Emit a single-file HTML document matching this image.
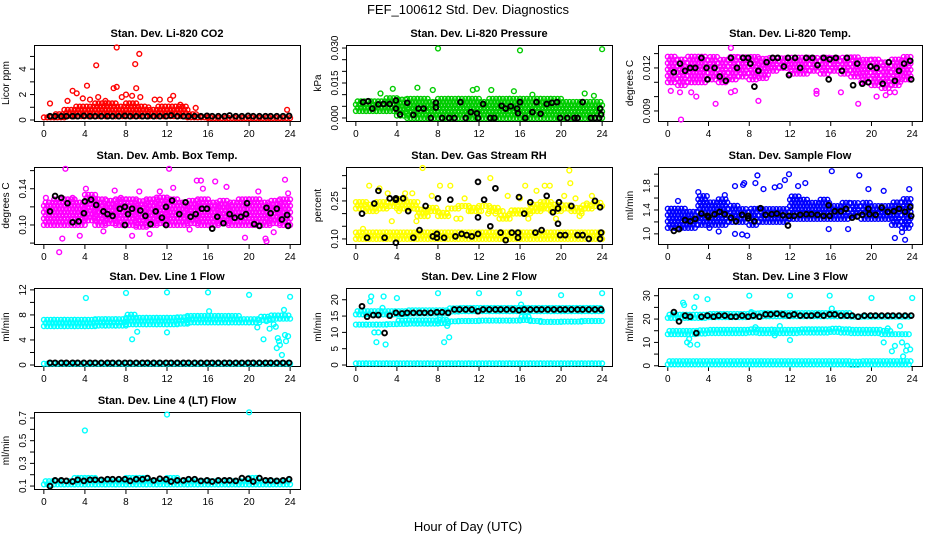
<!DOCTYPE html>
<html><head><meta charset="utf-8"><style>
html,body{margin:0;padding:0;background:#fff;}
svg{display:block;font-family:"Liberation Sans",sans-serif;}
</style></head><body>
<svg id="chart" width="936" height="540" viewBox="0 0 936 540" xmlns="http://www.w3.org/2000/svg">
<text x="468" y="14" text-anchor="middle" font-size="13">FEF_100612  Std. Dev. Diagnostics</text>
<text x="468" y="531" text-anchor="middle" font-size="13">Hour of Day (UTC)</text>
</svg>
<script>
// ---- shared categories ----
const bandHours = [0,1,2,3,4,5,6,7,8,9,10,11,12,13,14,15,16,17,18,19,20,21,22,23];
const blackHours = [0.6,1.1,1.7,2.2,2.8,3.3,3.9,4.5,5.0,5.6,6.2,6.7,7.3,7.9,8.4,9.0,9.6,10.1,10.7,11.3,11.9,12.4,13.0,13.6,14.1,14.7,15.3,15.9,16.4,17.0,17.6,18.1,18.7,19.3,19.9,20.4,21.0,21.6,22.1,22.7,23.3,23.9];
const xTickLabels = [0,4,8,12,16,20,24];

// ---- CO2 ----
const co2Lo = [.2,.2,.3,.3,.3,.3,.3,.3,.3,.3,.3,.3,.3,.3,.2,.2,.15,.15,.15,.15,.15,.15,.15,.15];
const co2Hi = [.45,.6,1.0,1.3,1.2,1.4,1.4,1.3,1.5,1.3,1.0,1.1,1.2,1.1,.5,.45,.4,.4,.4,.4,.4,.4,.4,.4];
const co2ScatX = [0.6,2.8,3.2,3.8,4.2,5.1,5.3,6.8,7.1,7.1,8.9,9.0,9.3,8.6,8.0,10.8,11.3,12.6,12.3,14.8,23.7,2.3,4.5,6.0,7.6,9.4,10.2,13.3];
const co2ScatY = [1.3,2.3,2.1,1.7,2.7,4.3,1.8,2.5,2.6,5.7,4.4,2.5,5.2,1.9,2.0,1.6,1.6,1.9,1.6,0.95,0.8,1.5,1.6,1.5,1.8,1.8,1.0,1.2];
const co2Black = [.3,.3,.3,.3,.3,.3,.32,.3,.3,.3,.3,.3,.3,.32,.3,.3,.3,.3,.3,.3,.3,.35,.3,.3,.3,.3,.3,.33,.3,.3,.3,.35,.3,.3,.32,.3,.3,.3,.3,.3,.3,.32];

// ---- Pressure ----
const prLo = [.003,.003,.003,.003,.001,0,0,0,0,0,0,0,0,0,0,0,0,0,0,0,0,0,0,0];
const prHi = [.0075,.0075,.0075,.009,.008,.009,.009,.008,.0085,.009,.0085,.0095,.008,.0085,.009,.0085,.0085,.009,.009,.009,.0075,.008,.008,.0075];
const prScatX = [3.6,6.0,7.5,11.4,11.8,13.2,15.4,8.0,16.0,24.0,17.2,22.3,23.2,2.4];
const prScatY = [.0125,.013,.012,.012,.0125,.012,.0115,.0298,.029,.0295,.010,.0105,.0095,.0105];
const prBlackX = [0.7,1.2,1.6,2.2,2.7,3.3,3.9,3.9,4.3,5.0,5.6,6.1,6.6,7.3,7.8,7.8,8.4,9.1,9.6,10.2,10.7,11.2,11.8,11.9,12.4,13.1,13.5,14.2,14.6,15.1,15.7,15.8,16.0,16.5,17.2,17.6,18.0,18.6,19.1,19.6,19.9,20.6,21.3,21.6,22.1,22.9,23.3,23.8,23.9,23.7];
const prBlackY = [.0068,.0072,.004,.0058,.006,.006,.0075,.004,.0015,.0065,.0013,.004,.004,0,.0065,.0045,0,0,0,.0068,0,.0025,.002,0,.006,0,0,.0052,.004,.005,.004,.002,.0068,0,.0025,.0068,.0018,.006,.0065,.0068,0,0,0,0,.0068,0,0,.004,.0015,0];

// ---- Li-820 Temp ----
const tLo = [.0110,.0108,.0110,.0110,.0112,.0110,.0112,.0114,.0112,.0113,.0118,.0120,.0116,.0116,.0118,.0116,.0118,.0116,.0114,.0110,.0108,.0106,.0108,.0112];
const tHi = [.0128,.0128,.0128,.0128,.0128,.0127,.0128,.0128,.0128,.0127,.0128,.0128,.0128,.0128,.0128,.0128,.0128,.0128,.0128,.0127,.0126,.0126,.0128,.0128];
const tScatX = [0.3,1.2,1.3,2.3,2.8,4.7,6.2,6.6,8.9,14.6,14.6,17.0,18.7,20.5,21.4,21.8,22.3,6.2];
const tScatY = [.0104,.0103,.0084,.0103,.0100,.0095,.0103,.0104,.0097,.0102,.0104,.0103,.0095,.0100,.0101,.0103,.0103,.0134];
const tBlackX = [0.6,1.2,1.7,2.2,2.7,3.3,3.8,3.9,4.6,5.1,5.7,6.2,6.8,7.4,7.9,8.1,8.5,8.9,9.7,10.3,10.8,11.4,11.8,11.9,12.5,13.0,13.6,14.2,14.7,15.3,15.8,15.9,16.5,17.1,17.6,18.2,18.6,19.1,19.7,19.9,20.5,21.1,21.7,22.3,22.7,23.2,23.8,23.9];
const tBlackY = [.0117,.0123,.0118,.0120,.0120,.0127,.0120,.0112,.0120,.0114,.0111,.0127,.0120,.0127,.0127,.0123,.0107,.0118,.0124,.0127,.0127,.0121,.0127,.0115,.0127,.0120,.0127,.0127,.0122,.0127,.0112,.0126,.0127,.0118,.0127,.0108,.0123,.0109,.0110,.0121,.0120,.0109,.0124,.0111,.0118,.0123,.0125,.0112];

// ---- Amb Box Temp ----
const abLo = [.100,.100,.100,.100,.105,.100,.102,.100,.100,.098,.100,.102,.100,.100,.102,.100,.100,.102,.100,.100,.100,.100,.102,.100];
const abHi = [.125,.130,.130,.128,.135,.130,.128,.130,.130,.128,.130,.132,.130,.128,.130,.130,.128,.130,.128,.130,.130,.128,.128,.130];
const abScatX = [0.2,1.5,1.8,2.1,2.8,3.5,4.1,6.9,7.5,8.6,9.3,10.3,11.3,12.2,12.6,14.9,15.3,15.5,16.7,17.8,19.6,20.9,21.6,21.7,22.4,23.5,23.8,14.2,5.8];
const abScatY = [.13,.07,.085,.162,.13,.088,.14,.138,.13,.088,.137,.09,.137,.162,.141,.149,.149,.14,.148,.142,.086,.137,.085,.082,.092,.15,.135,.095,.093];
const abBlackX = [0.6,1.1,1.7,2.3,2.8,3.4,3.9,4.0,4.6,5.1,5.8,6.2,6.7,7.4,7.9,7.9,8.2,8.6,9.4,9.9,10.4,10.9,11.5,11.9,11.9,12.5,13.2,13.8,14.3,14.8,15.4,15.9,16.4,16.9,17.5,18.1,18.6,19.2,19.7,19.8,20.5,21.0,21.7,22.1,22.7,23.2,23.7,23.8];
const abBlackY = [.115,.132,.130,.124,.103,.104,.113,.126,.128,.122,.115,.112,.110,.118,.120,.100,.112,.118,.116,.110,.101,.115,.108,.120,.100,.127,.112,.125,.109,.112,.118,.118,.096,.109,.102,.112,.108,.109,.112,.124,.101,.099,.119,.113,.118,.106,.111,.099];

// ---- Gas Stream RH ----
const rhLowLo = [.10,.10,.10,.10,.10,.10,.10,.10,.10,.10,.10,.10,.10,.10,.10,.10,.10,.10,.10,.10,.10,.10,.10,.10];
const rhLowHi = [.13,.13,.13,.13,.13,.13,.13,.13,.13,.13,.13,.13,.13,.13,.13,.13,.13,.13,.13,.13,.13,.13,.13,.13];
const rhUpLo = [.22,.21,.22,.23,.22,.22,.19,.21,.19,.22,.23,.21,.23,.21,.18,.20,.20,.21,.22,.21,.22,.21,.22,.23];
const rhUpHi = [.25,.24,.25,.25,.26,.25,.22,.23,.21,.23,.24,.23,.24,.23,.20,.22,.22,.24,.25,.24,.24,.23,.24,.25];
const rhScatX = [0.7,1.3,2.3,3.1,4.8,5.5,6.5,7.4,8.2,9.2,9.8,10.6,11.2,12.2,13.1,13.6,14.8,15.5,16.0,16.5,17.2,17.6,18.4,18.9,19.5,20.3,20.8,20.9,21.4,22.0,22.5,23.0,3.5,4.2,5.9,7.0,8.9,10.2,12.9,14.3,16.8,18.1,21.8];
const rhScatY = [.14,.31,.30,.28,.28,.28,.38,.27,.31,.31,.18,.26,.21,.21,.34,.20,.27,.21,.26,.31,.21,.29,.31,.31,.18,.27,.37,.32,.26,.20,.24,.27,.17,.21,.17,.19,.20,.18,.20,.21,.18,.22,.19];
const rhBlackX = [0.6,1.1,1.8,2.2,2.8,3.3,3.9,3.9,3.9,4.6,5.1,5.6,6.2,6.8,7.5,7.9,7.9,8.0,8.6,9.2,9.7,10.3,10.8,11.3,11.9,11.9,11.9,12.5,13.1,13.6,14.1,14.6,15.2,15.8,15.8,15.9,16.4,17.0,17.5,18.1,18.6,19.2,19.7,19.7,19.8,19.9,20.4,21.0,21.6,22.1,22.7,23.3,23.8,23.8,23.9];
const rhBlackY = [.20,.105,.24,.29,.105,.26,.255,.26,.085,.26,.21,.105,.135,.23,.11,.12,.105,.26,.105,.255,.11,.12,.115,.11,.325,.185,.12,.255,.15,.30,.125,.095,.125,.125,.105,.265,.20,.245,.125,.135,.27,.205,.16,.22,.245,.115,.115,.23,.115,.115,.10,.25,.225,.10,.125];

// ---- Sample Flow ----
const sfLo = [1.1,1.1,1.1,1.15,1.15,1.15,1.2,1.2,1.15,1.2,1.2,1.2,1.25,1.25,1.25,1.25,1.25,1.25,1.3,1.25,1.25,1.25,1.15,1.1];
const sfHi = [1.45,1.45,1.4,1.65,1.55,1.6,1.5,1.45,1.45,1.45,1.45,1.45,1.65,1.6,1.55,1.6,1.5,1.55,1.55,1.55,1.5,1.5,1.55,1.6];
const sfScatX = [5.0,6.6,7.3,7.8,6.6,7.4,7.5,8.6,8.8,9.4,10.5,11.0,11.5,11.9,12.8,13.5,16.1,18.8,19.7,22.3,23.0,23.3,15.8,17.7,1.0,3.0,5.6,4.1,21.2,23.7];
const sfScatY = [1.04,1.0,0.99,0.97,1.8,1.82,1.85,1.85,1.98,1.75,1.78,1.8,1.9,2.0,1.8,1.85,2.05,1.98,1.75,0.93,1.03,0.9,1.08,1.08,1.55,1.7,1.65,1.1,1.72,1.75];
const sfBlackX = [0.6,1.1,1.7,2.2,2.7,3.3,3.9,4.0,4.6,5.1,5.6,6.2,6.7,7.3,7.9,7.9,8.5,9.1,9.6,10.2,10.7,11.3,11.8,11.9,12.4,13.0,13.6,14.1,14.7,15.3,15.8,15.9,16.4,17.0,17.5,18.1,18.6,19.1,19.7,19.8,20.4,21.0,21.6,22.2,22.7,23.3,23.8,23.9];
const sfBlackY = [1.05,1.08,1.23,1.21,1.25,1.34,1.3,1.28,1.33,1.37,1.33,1.27,1.21,1.32,1.3,1.26,1.21,1.43,1.32,1.33,1.34,1.31,1.14,1.3,1.3,1.32,1.33,1.33,1.32,1.3,1.48,1.3,1.38,1.38,1.42,1.27,1.29,1.32,1.42,1.33,1.32,1.44,1.37,1.38,1.42,1.37,1.45,1.3];

// ---- Line 1 Flow ----
const l1Lo = [6.2,6.2,6.2,6.2,6.2,6.3,6.3,6.3,6.5,6.5,6.5,6.5,6.5,6.6,6.8,6.8,6.8,6.8,6.8,6.8,6.8,7.2,7.4,7.4];
const l1Hi = [7.3,7.3,7.3,7.3,7.4,7.4,7.4,7.4,8.3,7.8,7.8,7.8,7.8,7.8,8.0,8.0,8.0,8.0,8.0,7.8,7.8,8.0,8.0,8.0];
const l1BaseLo = [.2,.2,.2,.2,.2,.2,.2,.2,.2,.2,.2,.2,.2,.2,.2,.2,.2,.2,.2,.2,.2,.2,.2,.2];
const l1BaseHi = [.5,.5,.5,.5,.5,.5,.5,.5,.5,.5,.5,.5,.5,.5,.5,.5,.5,.5,.5,.5,.5,.5,.5,.5];
const l1ScatX = [4.1,8.0,8.6,9.1,12.0,12.0,16.0,16.1,20.0,20.8,21.4,22.4,22.6,22.7,22.8,22.9,23.0,23.2,23.4,23.5,23.6,23.8,24.0,22.0,21.7];
const l1ScatY = [10.7,11.5,4.1,5.3,11.6,5.2,11.6,8.6,11.2,6.0,4.1,6.5,6.1,2.7,4.3,3.8,3.2,1.6,8.8,4.8,3.8,4.6,10.9,5.8,7.0];
const l1Black = [.35,.35,.35,.35,.35,.35,.35,.35,.35,.35,.35,.35,.35,.35,.35,.35,.35,.35,.35,.35,.35,.35,.35,.35,.35,.35,.35,.35,.35,.35,.35,.35,.35,.35,.35,.35,.35,.35,.35,.35,.35,.35];

// ---- Line 2 Flow ----
const l2TopLo = [15.5,15.5,15.5,15.5,15.5,15.8,15.8,15.8,15.8,16.4,16.5,16.5,16.5,16.5,16.5,16.5,16.5,16.5,16.5,16.5,16.5,16.5,16.5,16.5];
const l2TopHi = [17.0,17.0,17.0,17.0,17.0,17.0,17.0,17.0,17.0,17.5,17.5,17.5,17.5,17.5,17.5,17.5,17.8,17.5,17.5,17.5,17.5,17.5,17.5,17.5];
const l2MidLo = [12.4,12.4,12.4,12.5,12.6,12.7,12.7,12.7,12.8,13.4,13.5,13.5,13.6,13.6,13.6,13.6,13.8,13.5,13.2,13.2,13.3,13.3,13.5,13.5];
const l2MidHi = [13.2,13.3,13.3,13.4,13.6,13.7,13.7,13.7,14.0,14.3,14.3,14.4,14.4,14.4,14.5,14.5,15.0,14.3,14.0,14.0,14.2,14.2,14.3,14.3];
const l2BaseLo = [.5,.5,.5,.5,.5,.5,.5,.5,.5,.5,.5,.5,.5,.5,.5,.5,.5,.5,.5,.5,.5,.5,.5,.5];
const l2BaseHi = [1.1,1.1,1.1,1.1,1.1,1.1,1.1,1.1,1.1,1.1,1.1,1.1,1.1,1.1,1.1,1.1,1.1,1.1,1.1,1.1,1.1,1.1,1.1,1.1];
const l2ScatX = [0.5,1.4,1.5,1.8,2.0,2.2,2.6,2.7,2.9,4.0,8.0,8.6,8.9,9.1,12.0,15.9,16.1,20.0,24.0,7.9,8.2];
const l2ScatY = [16.5,19.5,21.0,10.0,7.0,10.0,17.5,21.0,6.3,20.5,22.0,7.0,12.0,8.5,22.0,22.0,18.5,21.4,22.0,13.5,14.5];
const l2Black = [18,14.8,15.3,15.3,9.8,15.1,16,15.8,16,16,16,16,16,16.2,16.2,16,17,17,17,17,16.5,17,17,17,17,17,17,16.8,17,17,17,17,17,17,17,17,17,17,17,17,17,17];

// ---- Line 3 Flow ----
const l3TopLo = [20.5,20.5,20.5,20.5,20.8,20.8,20.8,20.8,21.0,21.2,21.2,21.2,21.2,21.2,21.2,21.2,21.2,21.2,21.0,21.0,21.0,21.0,21.0,21.0];
const l3TopHi = [22.0,22.0,22.0,22.3,22.3,22.3,22.3,22.3,22.5,22.6,22.6,22.6,22.6,22.6,22.6,22.6,22.6,22.6,22.3,22.3,22.3,22.3,22.3,22.3];
const l3MidLo = [13.5,13.5,13.5,13.8,14.0,14.0,14.0,14.0,14.2,14.0,14.0,14.0,14.0,14.2,14.2,14.2,14.5,14.2,14.0,14.0,14.0,13.5,13.5,13.5];
const l3MidHi = [15.0,15.0,15.2,15.4,15.6,15.6,15.6,15.6,16.5,15.8,15.8,15.8,15.8,15.8,16.0,16.0,16.5,15.8,15.6,15.6,15.8,15.5,14.8,14.5];
const l3BaseLo = [.6,.6,.6,.6,.6,.6,.6,.6,.6,.6,.6,.6,.6,.6,.6,.6,.6,.6,.4,.6,.6,.6,.6,.6];
const l3BaseHi = [2.0,2.0,2.0,2.0,2.0,2.0,2.0,2.0,2.0,2.0,2.0,2.0,2.0,2.0,2.0,2.0,2.0,2.0,2.0,2.0,2.0,2.0,2.0,2.0];
const l3ScatX = [0.3,0.7,1.5,1.6,1.9,2.1,2.2,2.6,2.8,2.9,3.9,8.0,8.2,8.6,11.0,12.0,12.0,15.9,16.1,20.0,21.2,21.6,22.0,22.3,22.8,23.0,23.1,23.4,23.5,23.8,24.0,10.5,10.2];
const l3ScatY = [20.5,22,27,26,10,11.5,9,25,29.5,9,28.5,30,23,16.5,17,30,11,30,24.5,29,10,16,6.2,8.5,17,10,4,6.5,8.5,7,29,13,15.5];
const l3Black = [23,19,21.5,21,14,21,21.5,21,21.5,21.5,21,21,21.5,21,21.5,21,22,22,22.3,22,21.5,22,21.5,21.5,21.5,21.8,21.5,22,22,21.5,21.5,21.5,21,21.5,21.5,21.5,21.5,21.5,21.5,21.5,21.5,21.5];

// ---- Line 4 Flow ----
const l4Lo = [.115,.115,.115,.115,.115,.115,.115,.115,.115,.115,.115,.115,.115,.115,.115,.115,.115,.115,.115,.115,.115,.115,.115,.115];
const l4Hi = [.17,.17,.17,.175,.175,.17,.17,.17,.175,.175,.17,.17,.175,.17,.17,.17,.17,.17,.17,.17,.175,.17,.17,.17];
const l4ScatX = [4.0,12.0,20.0];
const l4ScatY = [0.59,0.73,0.75];
const l4Black = [.10,.15,.15,.145,.14,.155,.145,.155,.155,.155,.16,.16,.16,.16,.145,.16,.16,.17,.15,.165,.16,.14,.15,.15,.16,.16,.145,.15,.14,.15,.15,.15,.145,.17,.165,.14,.17,.15,.15,.145,.15,.16];

const svg = document.getElementById('chart');
const NS = 'http://www.w3.org/2000/svg';
function mk(tag, attrs) {
  const e = document.createElementNS(NS, tag);
  for (const k in attrs) e.setAttribute(k, attrs[k]);
  return e;
}
const cols = [[34,300],[346,612],[658,922]];
const rows = [[45,121],[167,244],[288,366],[412,489]];

function circle(g, px, py, color, name, sw) {
  const c = mk('circle', {cx: px.toFixed(1), cy: py.toFixed(1), r: 2.4, fill: 'none', stroke: color, 'stroke-width': sw || 1.4});
  
  
  g.appendChild(c);
}

function panel(o) {
  const [L, R] = cols[o.col], [T, B] = rows[o.row];
  const xs = v => L + (v + 0.96) / 25.92 * (R - L);
  const ys = v => B - (v - o.ymin) / (o.ymax - o.ymin) * (B - T);
  const g = mk('g', {});
  
  
  svg.appendChild(g);
  const t = mk('text', {x: (L + R) / 2, y: T - 8, 'text-anchor': 'middle', 'font-size': 11, 'font-weight': 'bold'});
  t.textContent = o.title;
  
  
  g.appendChild(t);
  const yl = mk('text', {x: 0, y: 0, 'text-anchor': 'middle', 'font-size': 10, transform: `translate(${L - 25},${(T + B) / 2}) rotate(-90)`});
  yl.textContent = o.ylabel;
  
  
  g.appendChild(yl);
  const fr = mk('rect', {x: L + .5, y: T + .5, width: R - L, height: B - T, fill: 'none', stroke: '#000', 'stroke-width': 1});
  
  
  g.appendChild(fr);
  xTickLabels.forEach(v => {
    const x = xs(v);
    g.appendChild(mk('line', {x1: x, x2: x, y1: B + 1, y2: B + 5, stroke: '#000'}));
    const tl = mk('text', {x: x, y: B + 16, 'text-anchor': 'middle', 'font-size': 10});
    tl.textContent = v;
    
    
    g.appendChild(tl);
  });
  o.yticks.forEach(v => {
    const y = ys(v);
    g.appendChild(mk('line', {x1: L - 4, x2: L, y1: y, y2: y, stroke: '#000'}));
  });
  o.ylabels.forEach(s => {
    const y = ys(parseFloat(s));
    const tl = mk('text', {x: 0, y: 0, 'text-anchor': 'middle', 'font-size': 10, transform: `translate(${L - 8},${y}) rotate(-90)`});
    tl.textContent = s;
    
    
    g.appendChild(tl);
  });
  const clip = mk('g', {});
  
  
  g.appendChild(clip);
  (o.bands || []).forEach(b => {
    bandHours.forEach((h, i) => {
      const x0 = xs(h), x1 = xs(Math.min(h + 1, 24));
      const y0 = ys(b.lo[i]), y1 = ys(b.hi[i]);
      let row = 0;
      for (let py = y0; py >= y1 - 0.01; py -= 3.2) {
        const off = (row % 2) * 1.7;
        for (let px = x0 + off; px <= x1; px += 3.4) {
          circle(clip, px, py, b.color, 'cloud-point');
        }
        row++;
      }
    });
  });
  (o.scatter || []).forEach(s => {
    s.x.forEach((v, i) => circle(clip, xs(v), ys(s.y[i]), s.color, 'scatter-point'));
  });
  (o.black || []).forEach(s => {
    s.x.forEach((v, i) => circle(clip, xs(v), ys(s.y[i]), '#000', 'mean-point', 1.9));
  });
}

panel({name:'co2', col:0, row:0, title:'Stan. Dev. Li-820 CO2', ylabel:'Licor ppm', ymin:-0.08, ymax:5.9,
  yticks:[0,1,2,3,4,5], ylabels:['0','2','4'],
  bands:[{lo:co2Lo, hi:co2Hi, color:'#ff0000'}],
  scatter:[{x:co2ScatX, y:co2ScatY, color:'#ff0000'}],
  black:[{x:blackHours, y:co2Black}]});
panel({name:'pressure', col:1, row:0, title:'Stan. Dev. Li-820 Pressure', ylabel:'kPa', ymin:-0.0013, ymax:0.0313,
  yticks:[0,.005,.01,.015,.02,.025,.03], ylabels:['0.000','0.015','0.030'],
  bands:[{lo:prLo, hi:prHi, color:'#00cc00'}],
  scatter:[{x:prScatX, y:prScatY, color:'#00cc00'}],
  black:[{x:prBlackX, y:prBlackY}]});
panel({name:'li820-temp', col:2, row:0, title:'Stan. Dev. Li-820 Temp.', ylabel:'degrees C', ymin:0.0083, ymax:0.0136,
  yticks:[.009,.010,.011,.012,.013], ylabels:['0.009','0.012'],
  bands:[{lo:tLo, hi:tHi, color:'#ff00ff'}],
  scatter:[{x:tScatX, y:tScatY, color:'#ff00ff'}],
  black:[{x:tBlackX, y:tBlackY}]});
panel({name:'amb-box-temp', col:0, row:1, title:'Stan. Dev. Amb. Box Temp.', ylabel:'degrees C', ymin:0.079, ymax:0.164,
  yticks:[.08,.10,.12,.14,.16], ylabels:['0.10','0.14'],
  bands:[{lo:abLo, hi:abHi, color:'#ff00ff'}],
  scatter:[{x:abScatX, y:abScatY, color:'#ff00ff'}],
  black:[{x:abBlackX, y:abBlackY}]});
panel({name:'gas-stream-rh', col:1, row:1, title:'Stan. Dev. Gas Stream RH', ylabel:'percent', ymin:0.08, ymax:0.384,
  yticks:[.10,.15,.20,.25,.30,.35], ylabels:['0.10','0.25'],
  bands:[{lo:rhLowLo, hi:rhLowHi, color:'#ffff00'},{lo:rhUpLo, hi:rhUpHi, color:'#ffff00'}],
  scatter:[{x:rhScatX, y:rhScatY, color:'#ffff00'}],
  black:[{x:rhBlackX, y:rhBlackY}]});
panel({name:'sample-flow', col:2, row:1, title:'Stan. Dev. Sample Flow', ylabel:'ml/min', ymin:0.83, ymax:2.12,
  yticks:[1.0,1.2,1.4,1.6,1.8,2.0], ylabels:['1.0','1.4','1.8'],
  bands:[{lo:sfLo, hi:sfHi, color:'#0000ff'}],
  scatter:[{x:sfScatX, y:sfScatY, color:'#0000ff'}],
  black:[{x:sfBlackX, y:sfBlackY}]});
panel({name:'line1-flow', col:0, row:2, title:'Stan. Dev. Line 1 Flow', ylabel:'ml/min', ymin:-0.16, ymax:12.3,
  yticks:[0,2,4,6,8,10,12], ylabels:['0','4','8','12'],
  bands:[{lo:l1Lo, hi:l1Hi, color:'#00ffff'},{lo:l1BaseLo, hi:l1BaseHi, color:'#00ffff'}],
  scatter:[{x:l1ScatX, y:l1ScatY, color:'#00ffff'}],
  black:[{x:blackHours, y:l1Black}]});
panel({name:'line2-flow', col:1, row:2, title:'Stan. Dev. Line 2 Flow', ylabel:'ml/min', ymin:-0.3, ymax:23.6,
  yticks:[0,5,10,15,20], ylabels:['0','5','10','15','20'],
  bands:[{lo:l2TopLo, hi:l2TopHi, color:'#00ffff'},{lo:l2MidLo, hi:l2MidHi, color:'#00ffff'},{lo:l2BaseLo, hi:l2BaseHi, color:'#00ffff'}],
  scatter:[{x:l2ScatX, y:l2ScatY, color:'#00ffff'}],
  black:[{x:blackHours, y:l2Black}]});
panel({name:'line3-flow', col:2, row:2, title:'Stan. Dev. Line 3 Flow', ylabel:'ml/min', ymin:-0.1, ymax:33.3,
  yticks:[0,5,10,15,20,25,30], ylabels:['0','10','20','30'],
  bands:[{lo:l3TopLo, hi:l3TopHi, color:'#00ffff'},{lo:l3MidLo, hi:l3MidHi, color:'#00ffff'},{lo:l3BaseLo, hi:l3BaseHi, color:'#00ffff'}],
  scatter:[{x:l3ScatX, y:l3ScatY, color:'#00ffff'}],
  black:[{x:blackHours, y:l3Black}]});
panel({name:'line4-flow', col:0, row:3, title:'Stan. Dev. Line 4 (LT) Flow', ylabel:'ml/min', ymin:0.074, ymax:0.753,
  yticks:[.1,.2,.3,.4,.5,.6,.7], ylabels:['0.1','0.3','0.5','0.7'],
  bands:[{lo:l4Lo, hi:l4Hi, color:'#00ffff'}],
  scatter:[{x:l4ScatX, y:l4ScatY, color:'#00ffff'}],
  black:[{x:blackHours, y:l4Black}]});
</script>
</body></html>
